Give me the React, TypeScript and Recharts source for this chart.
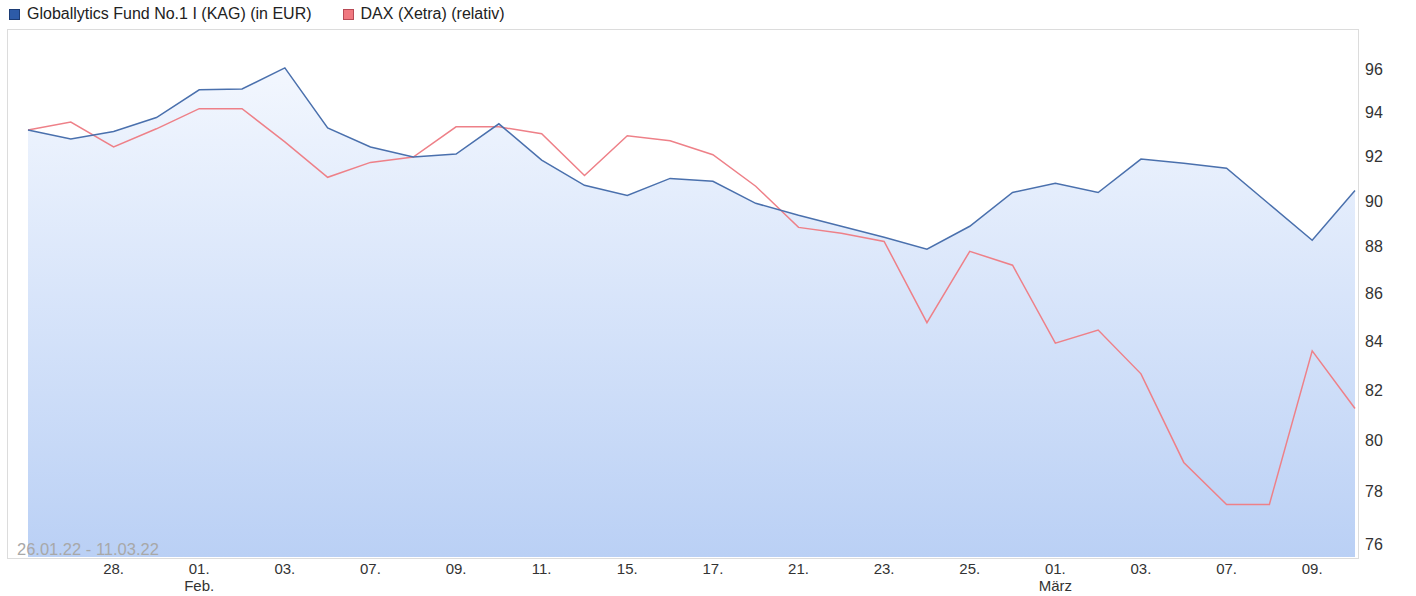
import React from "react";
import { ComposedChart, Area, Line, XAxis, YAxis } from "recharts";

const DATES = [
  "26.01.", "27.01.", "28.01.", "31.01.", "01.02.", "02.02.", "03.02.", "04.02.",
  "07.02.", "08.02.", "09.02.", "10.02.", "11.02.", "14.02.", "15.02.", "16.02.",
  "17.02.", "18.02.", "21.02.", "22.02.", "23.02.", "24.02.", "25.02.", "28.02.",
  "01.03.", "02.03.", "03.03.", "04.03.", "07.03.", "08.03.", "09.03.", "10.03.",
];

const FUND = [
  93.2, 92.78, 93.13, 93.77, 95.06, 95.1, 96.09, 93.29, 92.42, 91.96, 92.1, 93.48,
  91.82, 90.69, 90.24, 91.0, 90.87, 89.89, 89.36, 88.88, 88.4, 87.88, 88.88, 90.37,
  90.78, 90.37, 91.87, 91.68, 91.46, 89.85, 88.27, 90.46,
];

const DAX = [
  93.2, 93.56, 92.42, 93.25, 94.18, 94.18, 92.65, 91.05, 91.72, 91.96, 93.34, 93.34,
  93.02, 91.13, 92.93, 92.7, 92.07, 90.65, 88.83, 88.57, 88.22, 84.76, 87.79, 87.19,
  83.91, 84.45, 82.65, 79.12, 77.5, 77.5, 83.59, 81.25,
];

const X_TICKS = [
  "28.01.", "01.02.", "03.02.", "07.02.", "09.02.", "11.02.", "15.02.", "17.02.",
  "21.02.", "23.02.", "25.02.", "01.03.", "03.03.", "07.03.", "09.03.",
];
const MONTH_LABELS: Record<string, string> = { "01.02.": "Feb.", "01.03.": "März" };
const Y_TICKS = [76, 78, 80, 82, 84, 86, 88, 90, 92, 94, 96];

const data = DATES.map((d, i) => ({ date: d, fund: FUND[i], dax: DAX[i] }));

const FONT = "'Liberation Sans', Arial, sans-serif";

const DateTick = (props: any) => {
  const { x, y, payload } = props;
  const v: string = payload.value;
  const month = MONTH_LABELS[v];
  return (
    <g>
      <text x={x} y={y + 17} textAnchor="middle" fill="#333" fontSize={15} fontFamily={FONT}>
        {v.slice(0, 3)}
      </text>
      {month && (
        <text x={x} y={y + 34} textAnchor="middle" fill="#333" fontSize={15} fontFamily={FONT}>
          {month}
        </text>
      )}
    </g>
  );
};

export default function App() {
  return (
    <div style={{ position: "relative", width: 1416, height: 596, fontFamily: FONT, background: "#fff" }}>
      <style>{`body{margin:0}`}</style>

      {/* legend */}
      <div style={{ position: "absolute", left: 9, top: 5, fontSize: 16, color: "#222", display: "flex", alignItems: "center", whiteSpace: "nowrap" }}>
        <span style={{ width: 9, height: 9, background: "#2d5ba8", border: "1px solid #1c3c75", display: "inline-block", marginRight: 7 }} />
        <span>Globallytics Fund No.1 I (KAG) (in EUR)</span>
        <span style={{ width: 9, height: 9, background: "#f07880", border: "1px solid #b84a55", display: "inline-block", marginLeft: 31, marginRight: 7 }} />
        <span>DAX (Xetra) (relativ)</span>
      </div>

      <div style={{ position: "absolute", left: 0, top: 0 }}>
        <ComposedChart width={1416} height={596} data={data} margin={{ top: 30, right: 0, bottom: 0, left: 8 }}>
          <defs>
            <linearGradient id="fundFill" gradientUnits="userSpaceOnUse" x1="0" y1="30" x2="0" y2="557">
              <stop offset="0%" stopColor="#f7faff" />
              <stop offset="100%" stopColor="#bad0f5" />
            </linearGradient>
          </defs>
          <XAxis
            dataKey="date"
            scale="point"
            ticks={X_TICKS}
            interval={0}
            padding={{ left: 20, right: 2 }}
            height={39}
            tickSize={0}
            tickMargin={0}
            axisLine={false}
            tick={<DateTick />}
          />
          <YAxis
            orientation="right"
            scale="log"
            type="number"
            domain={[75.52, 97.9]}
            allowDataOverflow
            ticks={Y_TICKS}
            width={59}
            tickLine={false}
            axisLine={false}
            tickSize={0}
            tickMargin={8}
            tick={{ fill: "#333", fontSize: 16, fontFamily: FONT, textAnchor: "start" }}
          />
          <Area
            type="linear"
            dataKey="fund"
            baseValue="dataMin"
            stroke="none"
            fill="url(#fundFill)"
            fillOpacity={1}
            isAnimationActive={false}
          />
          <Line type="linear" dataKey="dax" stroke="#ee8088" strokeWidth={1.5} dot={false} isAnimationActive={false} />
          <Line type="linear" dataKey="fund" stroke="#4a70ad" strokeWidth={1.5} dot={false} isAnimationActive={false} />
        </ComposedChart>
      </div>

      {/* plot frame */}
      <div style={{ position: "absolute", left: 7, top: 29, width: 1350, height: 528, border: "1px solid #dcdcdc", pointerEvents: "none" }} />

      <div style={{ position: "absolute", left: 17, top: 540, fontSize: 16.5, color: "#a8a8a8" }}>26.01.22 - 11.03.22</div>
    </div>
  );
}
